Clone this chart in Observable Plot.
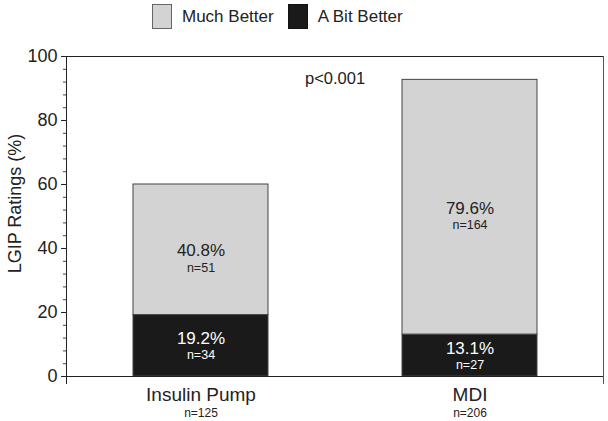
<!DOCTYPE html>
<html>
<head>
<meta charset="utf-8">
<script src="https://cdn.jsdelivr.net/npm/d3@7"></script>
<script src="https://cdn.jsdelivr.net/npm/@observablehq/plot@0.6"></script>
<style>
  html, body { margin: 0; padding: 0; background: #fff; }
  body { width: 608px; height: 421px; overflow: hidden; font-family: "Liberation Sans", Arial, Helvetica, sans-serif; color: #222; }
  #legend { height: 34px; display: flex; align-items: flex-start; padding-left: 152px; box-sizing: border-box; padding-top: 4px; }
  .item { display: flex; align-items: center; font-size: 17px; margin-right: 14px; }
  .sw { width: 20px; height: 25px; margin-right: 10px; box-sizing: border-box; }
</style>
</head>
<body>
<div id="legend"></div>
<div id="chart"></div>
<script>
const groups = ["Insulin Pump", "MDI"];
const groupN = ["n=125", "n=206"];
const series = ["Much Better", "A Bit Better"];
const seriesColors = ["#d3d3d3", "#1a1a1a"];
const muchBetter = [40.8, 79.6];
const muchBetterN = [51, 164];
const aBitBetter = [19.2, 13.1];
const aBitBetterN = [34, 27];
const yTicks = [0, 20, 40, 60, 80, 100];
const pLabel = "p<0.001";

const data = [];
groups.forEach((g, i) => {
  data.push({group: g, series: "A Bit Better", value: aBitBetter[i], n: aBitBetterN[i]});
  data.push({group: g, series: "Much Better", value: muchBetter[i], n: muchBetterN[i]});
});

// legend
const legend = document.getElementById("legend");
series.forEach((s, i) => {
  const it = document.createElement("div");
  it.className = "item";
  const sw = document.createElement("div");
  sw.className = "sw";
  sw.style.background = seriesColors[i];
  sw.style.border = "1px solid " + (i === 0 ? "#666" : "#111");
  const t = document.createElement("span");
  t.textContent = s;
  it.appendChild(sw); it.appendChild(t);
  legend.appendChild(it);
});

const stackOpts = {x: "group", y: "value", z: "series", order: ["A Bit Better", "Much Better"]};
const font = "Liberation Sans, Arial, Helvetica, sans-serif";
const isGray = d => d.series === "Much Better";
const pct = d => d.value.toFixed(1) + "%";
const nn = d => "n=" + d.n;

const chart = Plot.plot({
  width: 608,
  height: 387,
  marginLeft: 66,
  marginRight: 5,
  marginTop: 22,
  marginBottom: 45,
  style: {fontFamily: font, color: "#222", background: "#fff"},
  x: {domain: groups, paddingInner: 0.5, paddingOuter: 0.245, axis: null},
  y: {domain: [0, 100], axis: null},
  color: {domain: series, range: seriesColors},
  marks: [
    Plot.barY(data, Plot.stackY({...stackOpts, fill: "series", stroke: "#444", strokeWidth: 1})),
    Plot.text(data, Plot.stackY({...stackOpts, text: d => isGray(d) ? pct(d) : "", fill: "#222", fontSize: 17, dy: 1})),
    Plot.text(data, Plot.stackY({...stackOpts, text: d => isGray(d) ? nn(d) : "", fill: "#222", fontSize: 12.5, dy: 18})),
    Plot.text(data, Plot.stackY({...stackOpts, text: d => isGray(d) ? "" : pct(d), fill: "#fff", fontSize: 17, dy: -7})),
    Plot.text(data, Plot.stackY({...stackOpts, text: d => isGray(d) ? "" : nn(d), fill: "#fff", fontSize: 12.5, dy: 9})),
    Plot.frame({anchor: "top", stroke: "#222"}),
    Plot.frame({anchor: "bottom", stroke: "#222"}),
    Plot.frame({anchor: "left", stroke: "#222", insetBottom: -7}),
    Plot.frame({anchor: "right", stroke: "#555", insetBottom: -7}),
    Plot.axisY({ticks: d3.range(0, 101, 4), tickSize: 3, tickFormat: () => "", stroke: "#444", label: null}),
    Plot.axisY({ticks: yTicks, tickSize: 5, tickPadding: 4, fontSize: 18, stroke: "#222", label: null}),
    Plot.text(groups, {x: d => d, text: d => d, frameAnchor: "bottom", lineAnchor: "middle", dy: 18, fontSize: 19, fill: "#222"}),
    Plot.text(groups, {x: d => d, text: (d, i) => groupN[i], frameAnchor: "bottom", lineAnchor: "middle", dy: 37, fontSize: 12, fill: "#222"}),
    Plot.text([pLabel], {text: d => d, frameAnchor: "top", lineAnchor: "middle", dy: 22, fontSize: 16.5, fill: "#222"}),
    Plot.text(["LGIP Ratings (%)"], {text: d => d, frameAnchor: "left", textAnchor: "middle", lineAnchor: "middle", rotate: -90, dx: -51, dy: -13, fontSize: 18, fill: "#222"})
  ]
});
document.getElementById("chart").appendChild(chart);
</script>
</body>
</html>
